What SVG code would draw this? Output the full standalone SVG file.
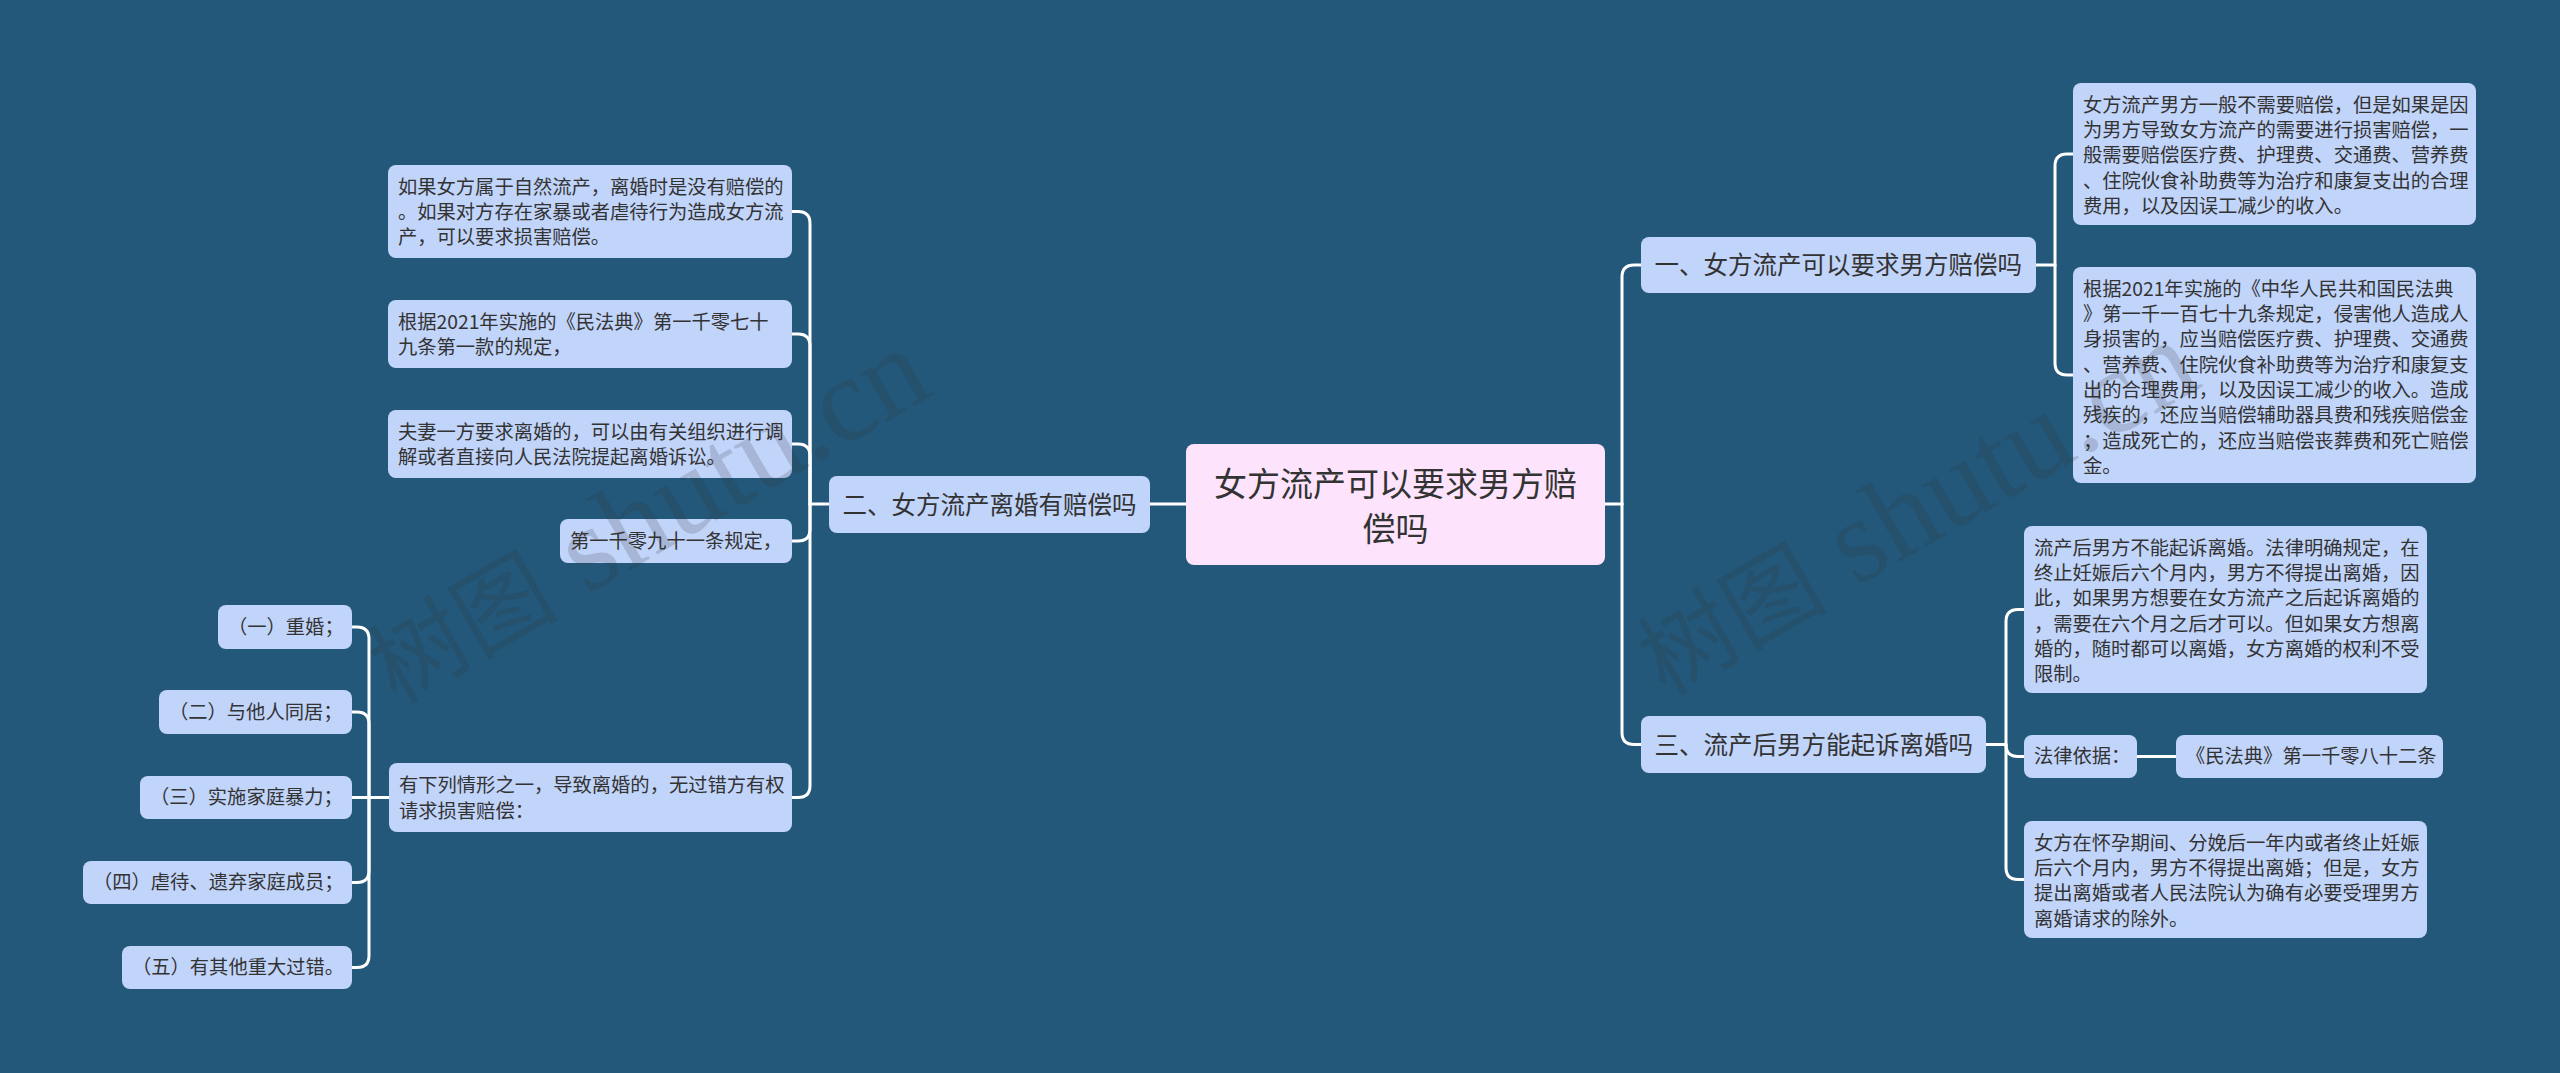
<svg xmlns="http://www.w3.org/2000/svg" width="2560" height="1073" viewBox="0 0 2560 1073">
<style>
.bg{fill:#23587a}
.n rect{fill:#c1d4fa}
.root rect{fill:#fde4fc}
.t{font-family:"Noto Sans CJK SC","Noto Sans",sans-serif;fill:#333333}
.s{font-size:19.3px}
.b{font-size:24.5px}
.r{font-size:33px}
.lk path{fill:none;stroke:#ffffff;stroke-width:3;stroke-linecap:round}
.wm{font-family:"Liberation Serif","Noto Sans CJK SC",serif;font-size:120px;fill:#333333;fill-opacity:0.18}
.wc{font-family:"Noto Sans CJK SC",serif;font-size:95px}
</style>
<rect class="bg" x="0" y="0" width="2560" height="1073"/>

<g id="connectors" class="lk">
  <path d="M1186 504 H1150"/>
  <path d="M1605 504 H1622"/>
  <path d="M1622 504 V277 Q1622 265 1634 265 H1641"/>
  <path d="M1622 504 V732.5 Q1622 744.5 1634 744.5 H1641"/>
  <path d="M829 504 H810 V223.5 Q810 211.5 798 211.5 H792"/>
  <path d="M810 504 V346 Q810 334 798 334 H792"/>
  <path d="M810 504 V456 Q810 444 798 444 H792"/>
  <path d="M810 504 V529 Q810 541 798 541 H792"/>
  <path d="M810 504 V785.5 Q810 797.5 798 797.5 H792"/>
  <path d="M389 797.5 H369 V639 Q369 627 357 627 H352"/>
  <path d="M369 797.5 V724 Q369 712 357 712 H352"/>
  <path d="M369 797.5 H352"/>
  <path d="M369 797.5 V870.5 Q369 882.5 357 882.5 H352"/>
  <path d="M369 797.5 V955.5 Q369 967.5 357 967.5 H352"/>
  <path d="M2036 265 H2055 V166 Q2055 154 2067 154 H2073"/>
  <path d="M2055 265 V363 Q2055 375 2067 375 H2073"/>
  <path d="M1986 744.5 H2006 V621.5 Q2006 609.5 2018 609.5 H2024"/>
  <path d="M2006 744.5 V744.5 Q2006 756.5 2018 756.5 H2024"/>
  <path d="M2006 744.5 V867.5 Q2006 879.5 2018 879.5 H2024"/>
  <path d="M2137 756.5 H2176"/>
</g>

<g id="root" class="root">
  <rect x="1186" y="444" width="419" height="121" rx="8"/>
  <text class="t r" x="1395.5" text-anchor="middle"><tspan x="1395.5" y="495.5">女方流产可以要求男方赔</tspan><tspan x="1395.5" y="540.5">偿吗</tspan></text>
</g>

<g id="b2" class="n">
  <rect x="829" y="476" width="321" height="57" rx="8"/>
  <text class="t b" x="842.5" y="513.8">二、女方流产离婚有赔偿吗</text>
</g>
<g id="b1" class="n">
  <rect x="1641" y="237" width="395" height="56" rx="8"/>
  <text class="t b" x="1654.5" y="274.3">一、女方流产可以要求男方赔偿吗</text>
</g>
<g id="b3" class="n">
  <rect x="1641" y="716" width="345" height="57" rx="8"/>
  <text class="t b" x="1654.5" y="753.8">三、流产后男方能起诉离婚吗</text>
</g>

<g id="l1" class="n">
  <rect x="388" y="165" width="404" height="93" rx="8"/>
  <text class="t s"><tspan x="398" y="193.7">如果女方属于自然流产，离婚时是没有赔偿的</tspan><tspan x="398" y="219">。如果对方存在家暴或者虐待行为造成女方流</tspan><tspan x="398" y="244.3">产，可以要求损害赔偿。</tspan></text>
</g>
<g id="l2" class="n">
  <rect x="388" y="300" width="404" height="68" rx="8"/>
  <text class="t s"><tspan x="398" y="328.7">根据2021年实施的《民法典》第一千零七十</tspan><tspan x="398" y="354">九条第一款的规定，</tspan></text>
</g>
<g id="l3" class="n">
  <rect x="388" y="410" width="404" height="68" rx="8"/>
  <text class="t s"><tspan x="398" y="438.7">夫妻一方要求离婚的，可以由有关组织进行调</tspan><tspan x="398" y="464">解或者直接向人民法院提起离婚诉讼。</tspan></text>
</g>
<g id="l4" class="n">
  <rect x="560" y="519" width="232" height="44" rx="8"/>
  <text class="t s" x="570" y="547.7">第一千零九十一条规定，</text>
</g>
<g id="l5" class="n">
  <rect x="389" y="763" width="403" height="69" rx="8"/>
  <text class="t s"><tspan x="399" y="792.2">有下列情形之一，导致离婚的，无过错方有权</tspan><tspan x="399" y="817.5">请求损害赔偿：</tspan></text>
</g>

<g id="g1" class="n">
  <rect x="218" y="605" width="134" height="44" rx="8"/>
  <text class="t s" x="228" y="633.7">（一）重婚；</text>
</g>
<g id="g2" class="n">
  <rect x="159" y="690" width="193" height="44" rx="8"/>
  <text class="t s" x="169" y="718.7">（二）与他人同居；</text>
</g>
<g id="g3" class="n">
  <rect x="140" y="776" width="212" height="43" rx="8"/>
  <text class="t s" x="150" y="804.2">（三）实施家庭暴力；</text>
</g>
<g id="g4" class="n">
  <rect x="83" y="861" width="269" height="43" rx="8"/>
  <text class="t s" x="93" y="889.2">（四）虐待、遗弃家庭成员；</text>
</g>
<g id="g5" class="n">
  <rect x="122" y="946" width="230" height="43" rx="8"/>
  <text class="t s" x="132" y="974.2">（五）有其他重大过错。</text>
</g>

<g id="r1a" class="n">
  <rect x="2073" y="83" width="403" height="142" rx="8"/>
  <text class="t s"><tspan x="2083" y="111.7">女方流产男方一般不需要赔偿，但是如果是因</tspan><tspan x="2083" y="137">为男方导致女方流产的需要进行损害赔偿，一</tspan><tspan x="2083" y="162.3">般需要赔偿医疗费、护理费、交通费、营养费</tspan><tspan x="2083" y="187.6">、住院伙食补助费等为治疗和康复支出的合理</tspan><tspan x="2083" y="212.9">费用，以及因误工减少的收入。</tspan></text>
</g>
<g id="r1b" class="n">
  <rect x="2073" y="267" width="403" height="216" rx="8"/>
  <text class="t s"><tspan x="2083" y="295.7">根据2021年实施的《中华人民共和国民法典</tspan><tspan x="2083" y="321">》第一千一百七十九条规定，侵害他人造成人</tspan><tspan x="2083" y="346.3">身损害的，应当赔偿医疗费、护理费、交通费</tspan><tspan x="2083" y="371.6">、营养费、住院伙食补助费等为治疗和康复支</tspan><tspan x="2083" y="396.9">出的合理费用，以及因误工减少的收入。造成</tspan><tspan x="2083" y="422.2">残疾的，还应当赔偿辅助器具费和残疾赔偿金</tspan><tspan x="2083" y="447.5">；造成死亡的，还应当赔偿丧葬费和死亡赔偿</tspan><tspan x="2083" y="472.8">金。</tspan></text>
</g>
<g id="r3a" class="n">
  <rect x="2024" y="526" width="403" height="167" rx="8"/>
  <text class="t s"><tspan x="2034" y="554.7">流产后男方不能起诉离婚。法律明确规定，在</tspan><tspan x="2034" y="580">终止妊娠后六个月内，男方不得提出离婚，因</tspan><tspan x="2034" y="605.3">此，如果男方想要在女方流产之后起诉离婚的</tspan><tspan x="2034" y="630.6">，需要在六个月之后才可以。但如果女方想离</tspan><tspan x="2034" y="655.9">婚的，随时都可以离婚，女方离婚的权利不受</tspan><tspan x="2034" y="681.2">限制。</tspan></text>
</g>
<g id="r3b" class="n">
  <rect x="2024" y="735" width="113" height="43" rx="8"/>
  <text class="t s" x="2034" y="763.2">法律依据：</text>
</g>
<g id="r3c" class="n">
  <rect x="2176" y="735" width="267" height="43" rx="8"/>
  <text class="t s" x="2186" y="763.2">《民法典》第一千零八十二条</text>
</g>
<g id="r3d" class="n">
  <rect x="2024" y="821" width="403" height="117" rx="8"/>
  <text class="t s"><tspan x="2034" y="849.7">女方在怀孕期间、分娩后一年内或者终止妊娠</tspan><tspan x="2034" y="875">后六个月内，男方不得提出离婚；但是，女方</tspan><tspan x="2034" y="900.3">提出离婚或者人民法院认为确有必要受理男方</tspan><tspan x="2034" y="925.6">离婚请求的除外。</tspan></text>
</g>

<g id="watermark">
  <text class="wm" transform="translate(396 705) rotate(-30)"><tspan class="wc">树图</tspan> shutu.cn</text>
  <text class="wm" transform="translate(1665 697) rotate(-30)"><tspan class="wc">树图</tspan> shutu.cn</text>
</g>
</svg>
